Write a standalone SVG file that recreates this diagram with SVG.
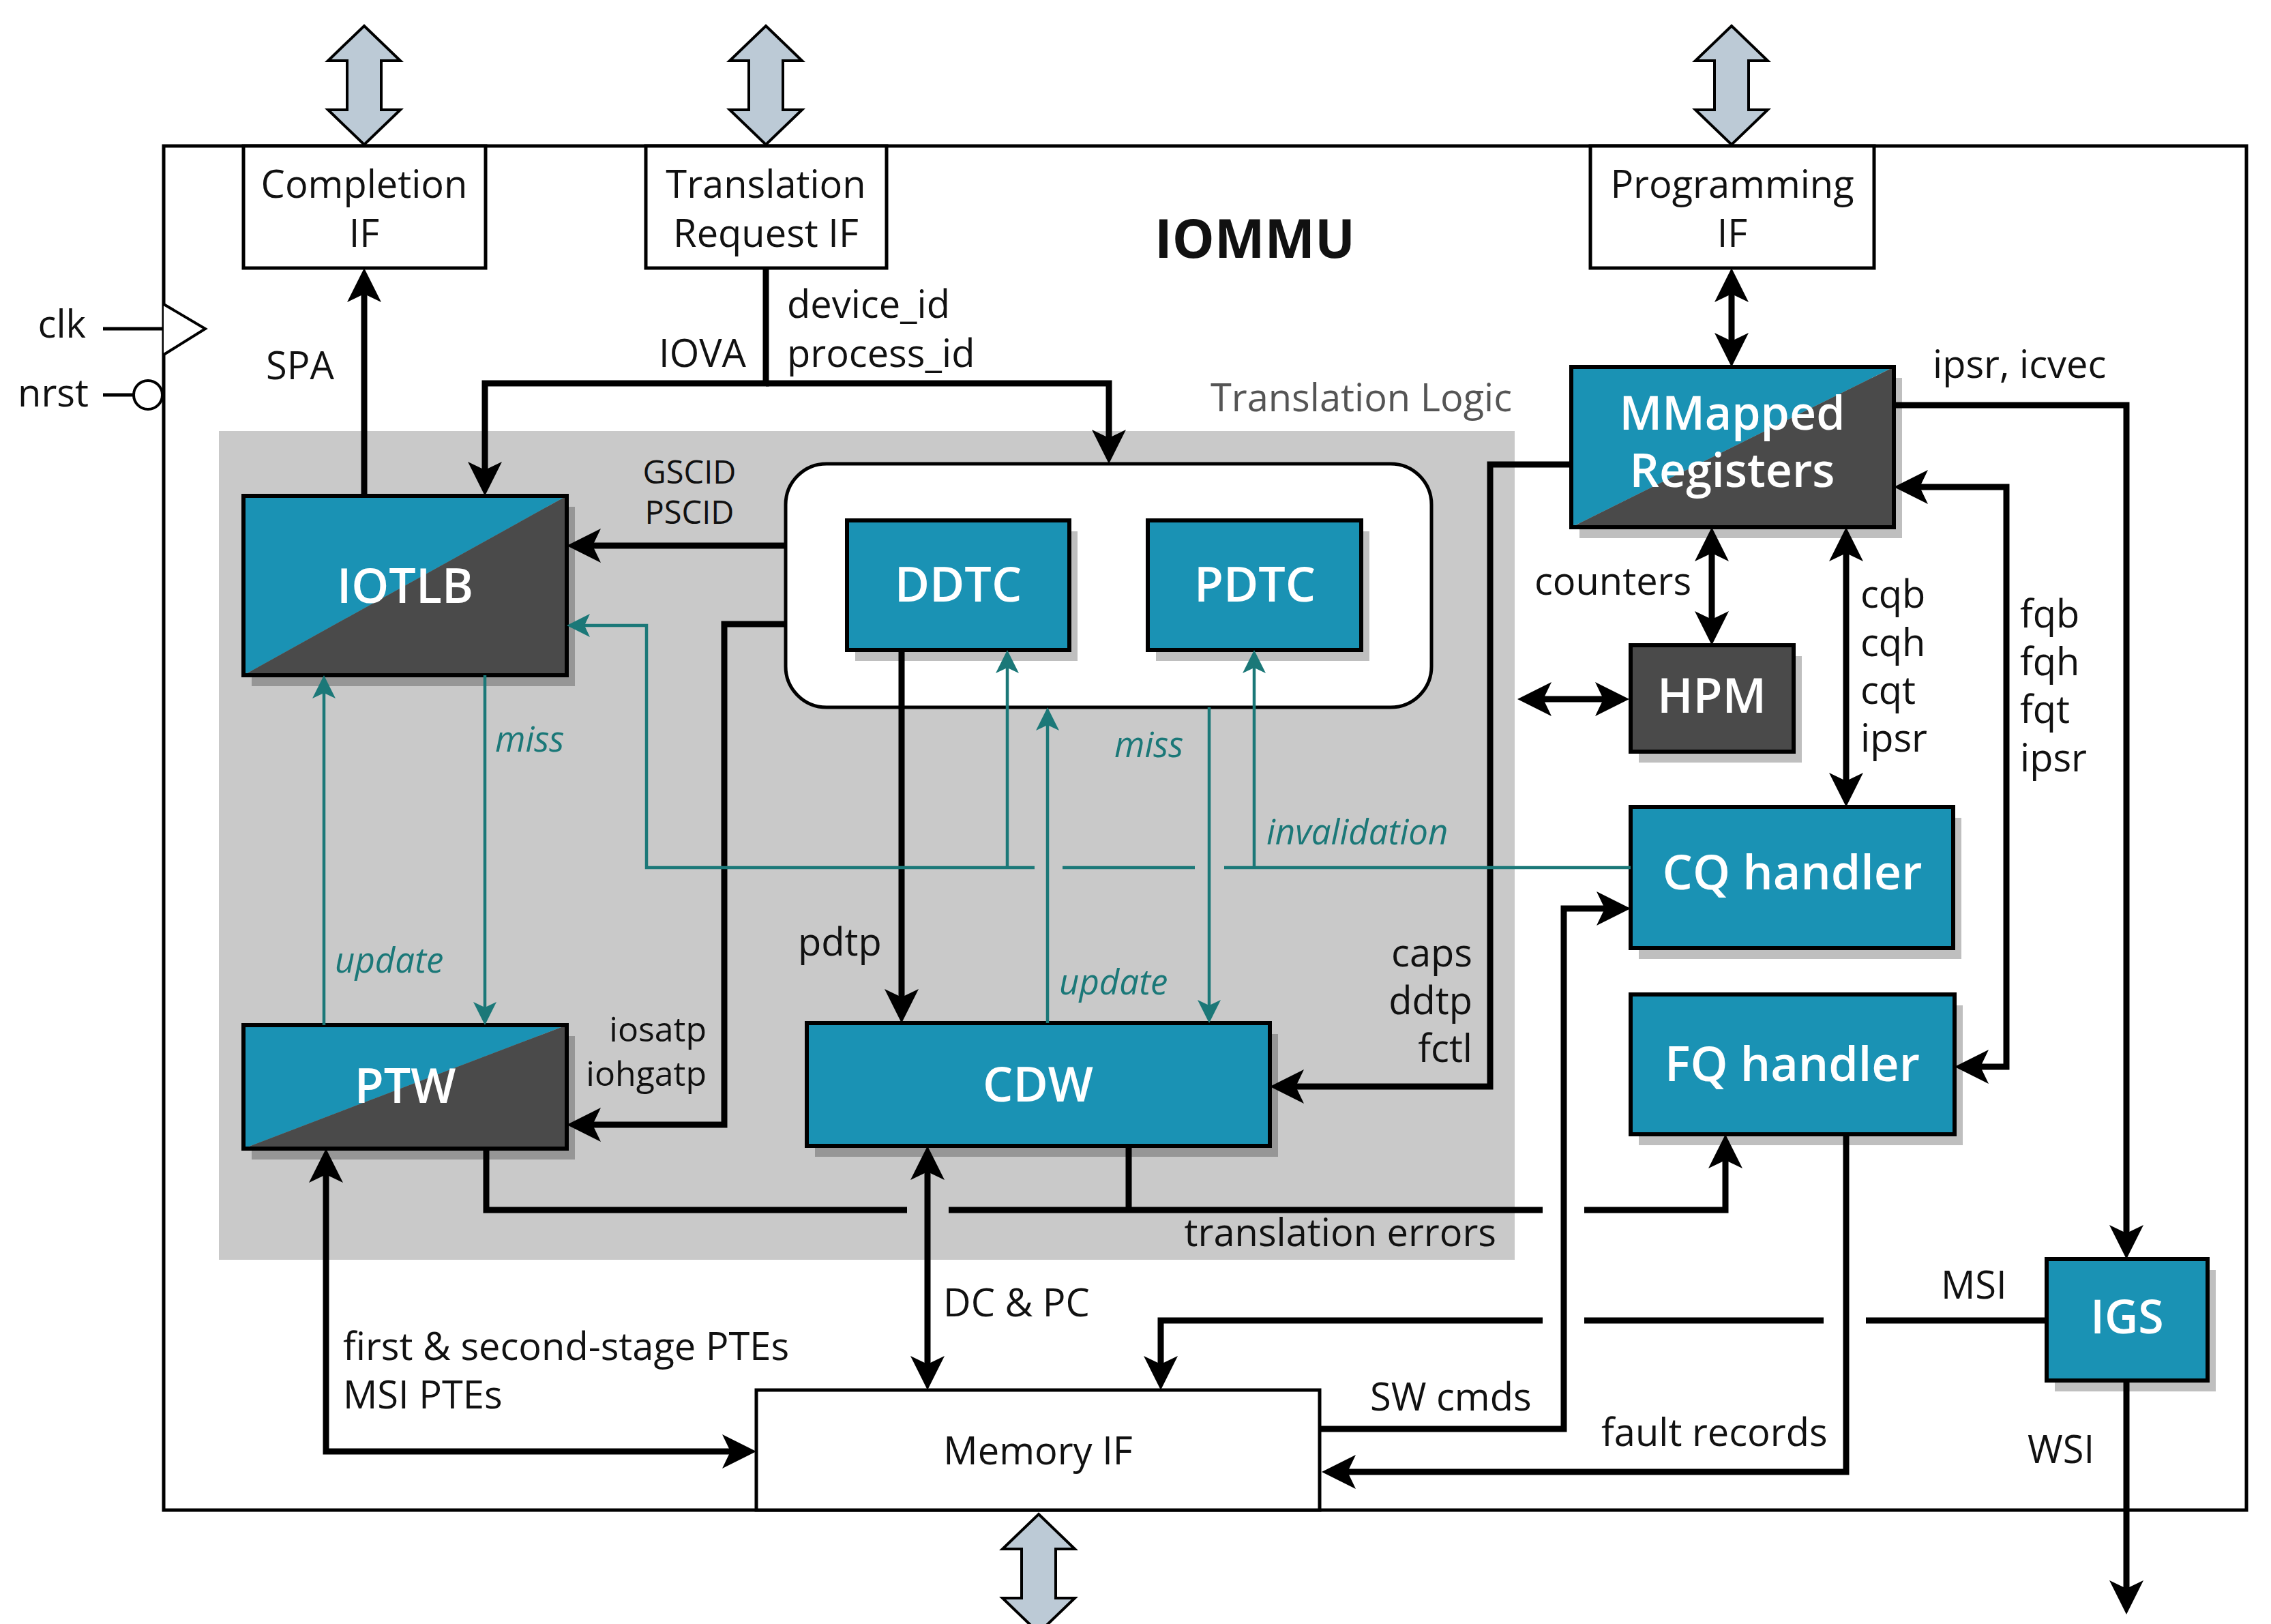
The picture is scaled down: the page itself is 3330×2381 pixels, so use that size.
<svg xmlns="http://www.w3.org/2000/svg" width="3330" height="2381" viewBox="0 0 3330 2381">
<style>
text{font-family:'Open Sans','Noto Sans','DejaVu Sans',sans-serif;}
.lbl{font-size:56px;fill:#111;}
.sm{font-size:47px;fill:#111;}
.it{font-size:51px;fill:#1b7878;font-style:italic;}
.nl{font-size:70px;fill:#fff;font-weight:600;text-anchor:middle;}
.box{fill:#fff;stroke:#000;stroke-width:5;}
.node{stroke:#000;stroke-width:6;fill:none;}
.teal{fill:#1a92b4;}
.dark{fill:#4a4a4a;}
.sh{fill:#000;fill-opacity:0.25;}
.big{fill:#bccad6;stroke:#000;stroke-width:4;stroke-linejoin:miter;}
.k{fill:none;stroke:#000;stroke-width:9;}
.t{fill:none;stroke:#1b7878;stroke-width:4.5;}
</style>
<defs>
<marker id="a" markerUnits="userSpaceOnUse" viewBox="0 -27 52 54" markerWidth="52" markerHeight="54" refX="25" refY="0" orient="auto-start-reverse">
<path d="M50,0 L0,-25 L12,0 L0,25 Z" fill="#000"/>
</marker>
<marker id="ta" markerUnits="userSpaceOnUse" viewBox="0 -18 36 36" markerWidth="36" markerHeight="36" refX="17" refY="0" orient="auto-start-reverse">
<path d="M34,0 L0,-17 L8,0 L0,17 Z" fill="#1b7878"/>
</marker>
</defs>
<rect width="3330" height="2381" fill="#fff"/>

<g id="external">
<polygon class="big" points="534,38 587,89 559,89 559,161 587,161 534,212 481,161 509,161 509,89 481,89"/>
<polygon class="big" points="1123,38 1176,89 1148,89 1148,161 1176,161 1123,212 1070,161 1098,161 1098,89 1070,89"/>
<polygon class="big" points="2539,38 2592,89 2564,89 2564,161 2592,161 2539,212 2486,161 2514,161 2514,89 2486,89"/>
<polygon class="big" points="1523,2220 1576,2271 1548,2271 1548,2343 1576,2343 1523,2394 1470,2343 1498,2343 1498,2271 1470,2271"/>
</g>

<g id="iommu">
<rect x="240" y="214" width="3054" height="2000" fill="#fff" stroke="#000" stroke-width="5"/>
<text x="1840" y="378" text-anchor="middle" style="font-size:78px;font-weight:700;fill:#111">IOMMU</text>
<line x1="151" y1="482" x2="240" y2="482" stroke="#000" stroke-width="5"/>
<polyline points="240,446 301,482 240,520" fill="#fff" stroke="#000" stroke-width="4"/>
<line x1="151" y1="579" x2="196" y2="579" stroke="#000" stroke-width="5"/>
<circle cx="217" cy="579" r="21" fill="#fff" stroke="#000" stroke-width="4"/>
<text class="lbl" x="126" y="495" text-anchor="end">clk</text>
<text class="lbl" x="130" y="596" text-anchor="end">nrst</text>
</g>

<g id="translation-logic">
<rect x="321" y="632" width="1900" height="1215" fill="#c9c9c9"/>
<text x="2217" y="603" text-anchor="end" style="font-size:56px;fill:#555">Translation Logic</text>
</g>

<g id="completion-if">
<rect class="box" x="357" y="214" width="355" height="179"/>
<text class="lbl" x="534" y="290" text-anchor="middle">Completion</text>
<text class="lbl" x="534" y="362" text-anchor="middle">IF</text>
</g>
<g id="translation-request-if">
<rect class="box" x="947" y="214" width="353" height="179"/>
<text class="lbl" x="1123" y="290" text-anchor="middle">Translation</text>
<text class="lbl" x="1123" y="362" text-anchor="middle">Request IF</text>
</g>
<g id="programming-if">
<rect class="box" x="2332" y="214" width="416" height="179"/>
<text class="lbl" x="2540" y="290" text-anchor="middle">Programming</text>
<text class="lbl" x="2540" y="362" text-anchor="middle">IF</text>
</g>
<g id="memory-if">
<rect class="box" x="1109" y="2038" width="826" height="176"/>
<text class="lbl" x="1522" y="2147" text-anchor="middle">Memory IF</text>
</g>

<g id="iotlb">
<rect class="sh" x="369" y="743" width="474" height="263"/>
<polygon class="teal" points="357,727 831,727 357,990"/>
<polygon class="dark" points="831,727 831,990 357,990"/>
<rect class="node" x="357" y="727" width="474" height="263"/>
<text class="nl" x="594" y="884">IOTLB</text>
</g>

<g id="ptw">
<rect class="sh" x="369" y="1519" width="474" height="181"/>
<polygon class="teal" points="357,1503 831,1503 357,1684"/>
<polygon class="dark" points="831,1503 831,1684 357,1684"/>
<rect class="node" x="357" y="1503" width="474" height="181"/>
<text class="nl" x="594" y="1617">PTW</text>
</g>

<g id="cache-group">
<rect x="1152" y="680" width="947" height="357" rx="60" ry="60" fill="#fff" stroke="#000" stroke-width="5"/>
</g>
<g id="ddtc">
<rect class="sh" x="1254" y="779" width="326" height="190"/>
<rect class="teal" x="1242" y="763" width="326" height="190"/>
<rect class="node" x="1242" y="763" width="326" height="190"/>
<text class="nl" x="1405" y="882">DDTC</text>
</g>
<g id="pdtc">
<rect class="sh" x="1695" y="779" width="313" height="190"/>
<rect class="teal" x="1683" y="763" width="313" height="190"/>
<rect class="node" x="1683" y="763" width="313" height="190"/>
<text class="nl" x="1840" y="882">PDTC</text>
</g>

<g id="cdw">
<rect class="sh" x="1195" y="1516" width="679" height="180"/>
<rect class="teal" x="1183" y="1500" width="679" height="180"/>
<rect class="node" x="1183" y="1500" width="679" height="180"/>
<text class="nl" x="1522" y="1615">CDW</text>
</g>

<g id="mmapped-registers">
<rect class="sh" x="2316" y="554" width="473" height="235"/>
<polygon class="teal" points="2304,538 2777,538 2304,773"/>
<polygon class="dark" points="2777,538 2777,773 2304,773"/>
<rect class="node" x="2304" y="538" width="473" height="235"/>
<text class="nl" x="2540" y="630" style="font-size:68px">MMapped</text>
<text class="nl" x="2540" y="714" style="font-size:68px">Registers</text>
</g>

<g id="hpm">
<rect class="sh" x="2403" y="962" width="239" height="156"/>
<rect class="dark" x="2391" y="946" width="239" height="156"/>
<rect class="node" x="2391" y="946" width="239" height="156"/>
<text class="nl" x="2510" y="1045">HPM</text>
</g>

<g id="cq-handler">
<rect class="sh" x="2403" y="1199" width="473" height="207"/>
<rect class="teal" x="2391" y="1183" width="473" height="207"/>
<rect class="node" x="2391" y="1183" width="473" height="207"/>
<text class="nl" x="2628" y="1304">CQ handler</text>
</g>

<g id="fq-handler">
<rect class="sh" x="2403" y="1474" width="475" height="205"/>
<rect class="teal" x="2391" y="1458" width="475" height="205"/>
<rect class="node" x="2391" y="1458" width="475" height="205"/>
<text class="nl" x="2628" y="1585">FQ handler</text>
</g>

<g id="igs">
<rect class="sh" x="3013" y="1862" width="236" height="178"/>
<rect class="teal" x="3001" y="1846" width="236" height="178"/>
<rect class="node" x="3001" y="1846" width="236" height="178"/>
<text class="nl" x="3119" y="1955" style="font-size:68px">IGS</text>
</g>

<g id="connectors">
<path class="k" d="M534,727 V418" marker-end="url(#a)"/>
<path class="k" d="M1123,393 V562 H711 V702" marker-end="url(#a)"/>
<path class="k" d="M1123,562 H1626 V655" marker-end="url(#a)"/>
<path class="k" d="M1152,800 H856" marker-end="url(#a)"/>
<path class="k" d="M1152,915 H1062 V1649 H856" marker-end="url(#a)"/>
<path class="k" d="M1322,953 V1475" marker-end="url(#a)"/>
<path class="k" d="M2304,681 H2185 V1593 H1887" marker-end="url(#a)"/>
<path class="k" d="M2539,418 V513" marker-start="url(#a)" marker-end="url(#a)"/>
<path class="k" d="M2777,594 H3118 V1821" marker-end="url(#a)"/>
<path class="k" d="M2802,714 H2942 V1564 H2891" marker-start="url(#a)" marker-end="url(#a)"/>
<path class="k" d="M2510,798 V921" marker-start="url(#a)" marker-end="url(#a)"/>
<path class="k" d="M2250,1025 H2364" marker-start="url(#a)" marker-end="url(#a)"/>
<path class="k" d="M2707,798 V1158" marker-start="url(#a)" marker-end="url(#a)"/>
<path class="k" d="M1935,2095 H2293 V1332 H2366" marker-end="url(#a)"/>
<path class="k" d="M1655,1680 V1774"/>
<path class="k" d="M713,1684 V1774 H1330 M1391,1774 H2262 M2323,1774 H2530 V1688" marker-end="url(#a)"/>
<path class="k" d="M2707,1663 V2158 H1963" marker-end="url(#a)"/>
<path class="k" d="M3001,1936 H2736 M2674,1936 H2323 M2262,1936 H1702 V2013" marker-end="url(#a)"/>
<path class="k" d="M3118,2024 V2342" marker-end="url(#a)"/>
<path class="k" d="M1360,1705 V2013" marker-start="url(#a)" marker-end="url(#a)"/>
<path class="k" d="M478,1709 V2128 H1084" marker-start="url(#a)" marker-end="url(#a)"/>

<path class="t" d="M475,1503 V1007" marker-end="url(#ta)"/>
<path class="t" d="M711,990 V1486" marker-end="url(#ta)"/>
<path class="t" d="M2391,1272 H1795 M1752,1272 H1558 M1517,1272 H948 V917 H848" marker-end="url(#ta)"/>
<path class="t" d="M1477,1272 V970" marker-end="url(#ta)"/>
<path class="t" d="M1839,1272 V970" marker-end="url(#ta)"/>
<path class="t" d="M1536,1500 V1054" marker-end="url(#ta)"/>
<path class="t" d="M1773,1037 V1483" marker-end="url(#ta)"/>
</g>

<g id="labels">
<text class="lbl" x="390" y="556">SPA</text>
<text class="lbl" x="1094" y="538" text-anchor="end">IOVA</text>
<text class="lbl" x="1154" y="466">device_id</text>
<text class="lbl" x="1154" y="538">process_id</text>
<text class="sm" x="1011" y="709" text-anchor="middle">GSCID</text>
<text class="sm" x="1011" y="768" text-anchor="middle">PSCID</text>
<text class="it" x="726" y="1102">miss</text>
<text class="it" x="491" y="1426">update</text>
<text class="it" x="1634" y="1110">miss</text>
<text class="it" x="1553" y="1458">update</text>
<text class="it" x="1857" y="1238">invalidation</text>
<text class="lbl" x="1170" y="1401">pdtp</text>
<text class="lbl" x="2159" y="1417" text-anchor="end">caps</text>
<text class="lbl" x="2159" y="1487" text-anchor="end">ddtp</text>
<text class="lbl" x="2159" y="1557" text-anchor="end">fctl</text>
<text class="sm" x="1036" y="1527" text-anchor="end" style="font-size:50px">iosatp</text>
<text class="sm" x="1036" y="1592" text-anchor="end" style="font-size:50px">iohgatp</text>
<text class="lbl" x="2834" y="554">ipsr, icvec</text>
<text class="lbl" x="2250" y="872">counters</text>
<text class="lbl" x="2728" y="891">cqb</text>
<text class="lbl" x="2728" y="962">cqh</text>
<text class="lbl" x="2728" y="1032">cqt</text>
<text class="lbl" x="2728" y="1102">ipsr</text>
<text class="lbl" x="2962" y="920">fqb</text>
<text class="lbl" x="2962" y="990">fqh</text>
<text class="lbl" x="2962" y="1060">fqt</text>
<text class="lbl" x="2962" y="1131">ipsr</text>
<text class="lbl" x="2194" y="1827" text-anchor="end">translation errors</text>
<text class="lbl" x="1383" y="1930">DC &amp; PC</text>
<text class="lbl" x="503" y="1994">first &amp; second-stage PTEs</text>
<text class="lbl" x="503" y="2065">MSI PTEs</text>
<text class="lbl" x="2009" y="2068">SW cmds</text>
<text class="lbl" x="2348" y="2120">fault records</text>
<text class="lbl" x="2846" y="1904">MSI</text>
<text class="lbl" x="2973" y="2145">WSI</text>
</g>
</svg>
